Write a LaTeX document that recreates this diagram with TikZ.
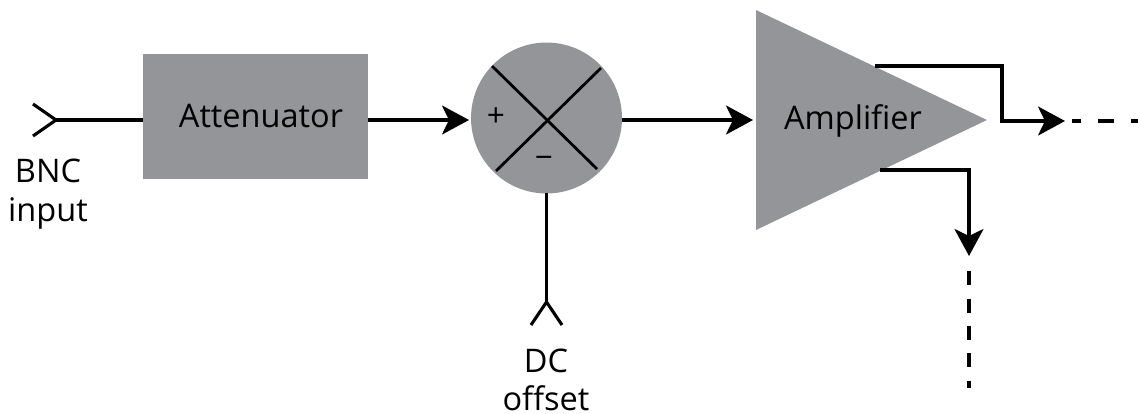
\documentclass[tikz,border=0pt]{standalone}
\usepackage{fontspec}
\setmainfont{Open Sans}
\usetikzlibrary{arrows.meta,shapes.geometric}

\begin{document}
\begin{tikzpicture}
        [x=0.02cm,y=-0.02cm,
        BlockNode/.style={rectangle,fill=blockGray,inner sep=0,outer sep=0,minimum width=4.5cm,minimum height=2.5cm},
        MixNode/.style={circle,fill=blockGray,inner sep=0,outer sep=0,minimum size=3.02cm},
        AmpNode/.style={isosceles triangle,isosceles triangle stretches,shape border rotate=0,fill=blockGray,inner sep=0,outer sep=0,minimum width=4.4cm,minimum height=4.62cm},
        TextNode/.style={align=center,inner sep=0,font=\fontsize{18.5}{22}\selectfont},
        SignNode/.style={inner sep=0,font=\fontsize{18}{22}\selectfont},
        Wire/.style={line width=0.062cm},
        SigArrow/.style={Wire,-{Stealth[length=0.54cm,width=0.58cm,inset=0.14cm]}}]
        \definecolor{blockGray}{RGB}{147,149,152}

        % fix the page size
        \useasboundingbox (0,0) rectangle (1138,413);

        % blocks
        \node[BlockNode] (att) at (255.5,116.5) {};
        \node[MixNode] (mix) at (546.5,118) {};
        \node[AmpNode,anchor=lower side] (amp) at (756,120) {};

        % block texts
        \node[TextNode] (attText) at (261,116) {Attenuator};
        \node[TextNode] (ampText) at (853,121) {Amplifier};
        \node[TextNode] (bncText) at (48,194) {BNC\\input};
        \node[TextNode] (dcText) at (546,380) {DC\\offset};
        \node[SignNode] (plus) at (496,117) {+};
        \node[SignNode] (minus) at (544,162) {\textminus};

        % free ends of the wires
        \coordinate (bncTip) at (56,120);
        \coordinate (bncUp) at (33,104);
        \coordinate (bncDown) at (33,136);
        \coordinate (dcTip) at (546.5,302);
        \coordinate (dcLeft) at (531,325);
        \coordinate (dcRight) at (562,325);
        \coordinate (attIn) at (143,120);
        \coordinate (attOut) at (368,120);
        \coordinate (mixIn) at (469,120);
        \coordinate (mixOut) at (622,120);
        \coordinate (ampIn) at (753,120);
        \coordinate (topOut) at (875,66);
        \coordinate (topBend) at (1002,66);
        \coordinate (topDown) at (1002,121);
        \coordinate (topTip) at (1065,121);
        \coordinate (topDash) at (1072,121);
        \coordinate (topEnd) at (1138,121);
        \coordinate (lowOut) at (880,170);
        \coordinate (lowBend) at (969,170);
        \coordinate (lowTip) at (969,256);
        \coordinate (lowDash) at (969,271);
        \coordinate (lowEnd) at (969,388);

        % cross inside the mixer
        \coordinate (xa) at (492,66);
        \coordinate (xb) at (597,169);
        \coordinate (xc) at (601,68);
        \coordinate (xd) at (496,171);
        \draw[Wire,line width=0.055cm] (xa)--(xb);
        \draw[Wire,line width=0.055cm] (xc)--(xd);

        % input connectors
        \draw[Wire] (bncUp)--(bncTip)--(bncDown);
        \draw[Wire] (bncTip)--(attIn);
        \draw[Wire] (dcLeft)--(dcTip)--(dcRight);
        \draw[Wire] (dcTip)--(mix.south);

        % signal path
        \draw[SigArrow] (attOut)--(mixIn);
        \draw[SigArrow] (mixOut)--(ampIn);
        \draw[SigArrow] (topOut)--(topBend)--(topDown)--(topTip);
        \draw[SigArrow] (lowOut)--(lowBend)--(lowTip);

        % dashed outputs
        \draw[Wire,dash pattern=on 0.32cm off 0.34cm,dash phase=0.14cm] (topDash)--(topEnd);
        \draw[Wire,dash pattern=on 0.28cm off 0.27cm] (lowDash)--(lowEnd);
    \end{tikzpicture}
\end{document}
